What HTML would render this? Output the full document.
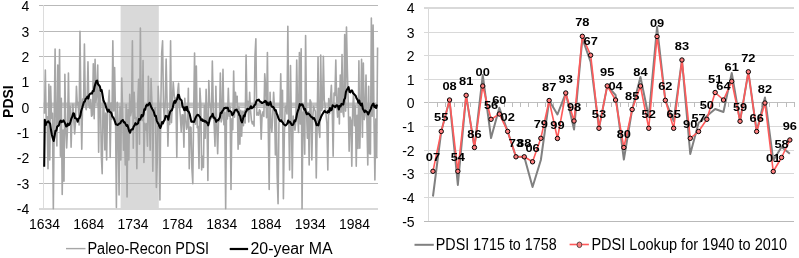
<!DOCTYPE html><html><head><meta charset="utf-8"><style>html,body{margin:0;padding:0;background:#fff;}svg{display:block;will-change:transform;}text{font-family:"Liberation Sans",sans-serif;}</style></head><body>
<svg width="799" height="258" viewBox="0 0 799 258">
<rect width="799" height="258" fill="#fff"/>
<rect x="120.6" y="5" width="38.2" height="204" fill="#d9d9d9"/>
<g shape-rendering="crispEdges">
<line x1="39" y1="5.5" x2="377.8" y2="5.5" stroke="#b9b9b9" stroke-width="1"/>
<line x1="39" y1="31.5" x2="377.8" y2="31.5" stroke="#b9b9b9" stroke-width="1"/>
<line x1="39" y1="56.5" x2="377.8" y2="56.5" stroke="#b9b9b9" stroke-width="1"/>
<line x1="39" y1="81.5" x2="377.8" y2="81.5" stroke="#b9b9b9" stroke-width="1"/>
<line x1="39" y1="107.5" x2="377.8" y2="107.5" stroke="#b9b9b9" stroke-width="1"/>
<line x1="39" y1="132.5" x2="377.8" y2="132.5" stroke="#b9b9b9" stroke-width="1"/>
<line x1="39" y1="157.5" x2="377.8" y2="157.5" stroke="#b9b9b9" stroke-width="1"/>
<line x1="39" y1="183.5" x2="377.8" y2="183.5" stroke="#b9b9b9" stroke-width="1"/>
<line x1="43.5" y1="5" x2="43.5" y2="208" stroke="#dcdcdc" stroke-width="1"/>
<rect x="39" y="208" width="338.8" height="2" fill="#d9d9d9"/>
</g>
<line x1="43.5" y1="104.6" x2="377.5" y2="104.6" stroke="#c0c0c0" stroke-width="4.2"/>
<polyline points="44.44,113.8 45.33,70.0 46.22,121.7 47.11,116.8 48.00,168.8 48.89,84.2 49.77,160.0 50.66,86.2 51.55,118.3 52.44,113.3 53.33,208.8 54.22,119.1 55.10,49.0 55.99,128.3 56.88,146.0 57.77,65.0 58.66,126.0 59.55,49.5 60.43,156.3 61.32,98.3 62.21,194.5 63.10,130.1 63.99,181.3 64.88,74.4 65.76,128.5 66.65,148.0 67.54,127.8 68.43,73.1 69.32,124.9 70.20,106.3 71.09,147.2 71.98,117.3 72.87,104.0 73.76,119.2 74.65,134.0 75.53,122.2 76.42,86.2 77.31,104.8 78.20,102.5 79.09,125.0 79.98,31.3 80.86,99.7 81.75,149.2 82.64,99.0 83.53,105.6 84.42,44.0 85.31,104.6 86.19,109.6 87.08,101.9 87.97,61.9 88.86,105.6 89.75,108.1 90.64,99.6 91.52,116.3 92.41,114.9 93.30,63.8 94.19,118.8 95.08,59.4 95.97,102.4 96.85,92.5 97.74,65.0 98.63,152.3 99.52,90.2 100.41,95.1 101.30,155.3 102.18,173.8 103.07,100.1 103.96,109.7 104.85,150.0 105.74,113.1 106.62,160.0 107.51,109.5 108.40,102.2 109.29,90.2 110.18,157.5 111.07,103.1 111.95,119.1 112.84,40.8 113.73,110.9 114.62,67.5 115.51,116.7 116.40,207.5 117.28,102.3 118.17,122.6 119.06,195.0 119.95,106.8 120.84,160.0 121.73,78.0 122.61,110.9 123.50,150.2 124.39,125.4 125.28,165.0 126.17,104.5 127.06,197.0 127.94,109.2 128.83,160.0 129.72,94.3 130.61,115.6 131.50,111.2 132.39,40.8 133.27,148.2 134.16,92.2 135.05,118.1 135.94,117.5 136.83,168.8 137.72,104.0 138.60,79.4 139.49,144.2 140.38,28.0 141.27,115.1 142.16,120.5 143.05,60.6 143.93,162.5 144.82,123.4 145.71,129.9 146.60,123.5 147.49,146.2 148.38,76.3 149.26,116.7 150.15,150.2 151.04,78.5 151.93,103.4 152.82,171.3 153.70,114.1 154.59,108.7 155.48,107.5 156.37,187.5 157.26,160.3 158.15,86.2 159.03,105.3 159.92,200.0 160.81,106.3 161.70,53.0 162.59,40.8 163.48,104.8 164.36,121.1 165.25,101.5 166.14,59.0 167.03,101.2 167.92,146.2 168.81,110.2 169.69,124.4 170.58,40.8 171.47,122.6 172.36,99.6 173.25,82.2 174.14,94.6 175.02,103.1 175.91,98.0 176.80,157.5 177.69,91.7 178.58,83.2 179.47,106.0 180.35,116.1 181.24,132.0 182.13,114.8 183.02,115.0 183.91,147.2 184.80,98.3 185.68,118.2 186.57,129.2 187.46,126.3 188.35,88.2 189.24,168.8 190.12,127.1 191.01,127.5 191.90,168.4 192.79,183.8 193.68,110.7 194.57,53.0 195.45,124.2 196.34,66.0 197.23,127.7 198.12,126.5 199.01,168.4 199.90,88.2 200.78,104.3 201.67,170.0 202.56,156.3 203.45,167.5 204.34,105.4 205.23,138.2 206.11,89.2 207.00,119.3 207.89,180.5 208.78,80.6 209.67,103.3 210.56,106.7 211.44,118.8 212.33,61.0 213.22,104.5 214.11,124.0 215.00,146.2 215.89,86.2 216.77,126.9 217.66,153.8 218.55,120.8 219.44,120.9 220.33,73.1 221.22,121.9 222.10,118.2 222.99,69.4 223.88,124.7 224.77,112.2 225.66,208.8 226.55,108.3 227.43,119.0 228.32,88.2 229.21,116.2 230.10,106.9 230.99,189.5 231.88,118.8 232.76,129.7 233.65,71.0 234.54,117.3 235.43,92.2 236.32,102.2 237.20,96.3 238.09,149.2 238.98,106.7 239.87,144.2 240.76,110.2 241.65,136.1 242.53,111.4 243.42,125.6 244.31,110.7 245.20,122.9 246.09,55.0 246.98,105.9 247.86,101.2 248.75,122.0 249.64,92.2 250.53,110.4 251.42,120.3 252.31,123.9 253.19,121.5 254.08,126.1 254.97,56.3 255.86,38.8 256.75,115.1 257.64,112.7 258.52,115.1 259.41,109.7 260.30,111.1 261.19,139.2 262.08,114.9 262.97,111.7 263.85,116.4 264.74,73.8 265.63,86.2 266.52,117.7 267.41,52.5 268.30,130.4 269.18,189.5 270.07,92.2 270.96,123.4 271.85,132.1 272.74,113.6 273.62,92.2 274.51,109.2 275.40,155.0 276.29,111.7 277.18,176.3 278.07,203.8 278.95,123.0 279.84,117.3 280.73,73.8 281.62,120.7 282.51,90.2 283.40,198.8 284.28,137.2 285.17,106.8 286.06,106.1 286.95,114.0 287.84,26.3 288.73,118.0 289.61,170.0 290.50,65.6 291.39,120.4 292.28,178.0 293.17,116.1 294.06,123.0 294.94,130.1 295.83,121.6 296.72,60.0 297.61,111.2 298.50,132.4 299.39,52.5 300.27,124.0 301.16,48.8 302.05,208.8 302.94,112.6 303.83,111.0 304.72,154.3 305.60,35.5 306.49,110.6 307.38,138.2 308.27,111.8 309.16,165.0 310.05,99.8 310.93,102.0 311.82,160.0 312.71,117.4 313.60,106.4 314.49,109.2 315.38,111.5 316.26,178.0 317.15,124.1 318.04,57.0 318.93,129.7 319.82,137.4 320.70,55.0 321.59,110.6 322.48,107.8 323.37,56.3 324.26,100.1 325.15,106.0 326.03,114.6 326.92,123.7 327.81,170.0 328.70,98.6 329.59,113.8 330.48,99.2 331.36,85.2 332.25,110.2 333.14,156.3 334.03,93.0 334.92,95.4 335.81,60.0 336.69,103.5 337.58,117.1 338.47,88.2 339.36,124.0 340.25,75.0 341.14,112.3 342.02,54.5 342.91,111.9 343.80,116.8 344.69,34.5 345.58,111.1 346.47,27.0 347.35,69.0 348.24,103.1 349.13,151.3 350.02,117.0 350.91,120.5 351.80,166.3 352.68,109.9 353.57,92.2 354.46,125.6 355.35,106.1 356.24,166.3 357.12,115.2 358.01,148.5 358.90,60.8 359.79,148.2 360.68,110.8 361.57,59.3 362.45,137.3 363.34,63.1 364.23,119.6 365.12,114.5 366.01,75.0 366.90,120.3 367.78,165.0 368.67,86.2 369.56,153.8 370.45,154.0 371.34,18.0 372.23,116.3 373.11,25.0 374.00,119.1 374.89,180.0 375.78,119.1 376.67,157.8 377.56,47.5" fill="none" stroke="#a6a6a6" stroke-width="1.6" stroke-linejoin="round"/>
<polyline points="44.20,166.70 44.80,119.67 45.69,125.07 46.58,122.36 47.46,122.05 48.35,121.28 49.24,122.72 50.13,123.91 51.02,130.03 51.91,134.94 52.79,138.20 53.68,141.07 54.57,135.97 55.46,130.76 56.35,130.65 57.24,126.55 58.12,125.97 59.01,125.07 59.90,121.69 60.79,120.51 61.68,122.09 62.57,121.69 63.45,120.25 64.34,121.87 65.23,123.67 66.12,126.54 67.01,126.16 67.90,123.66 68.78,125.11 69.67,124.22 70.56,121.52 71.45,118.33 72.34,116.51 73.23,113.22 74.11,113.67 75.00,118.23 75.89,118.20 76.78,118.93 77.67,121.67 78.56,118.40 79.44,118.24 80.33,115.71 81.22,110.79 82.11,108.09 83.00,105.07 83.89,102.13 84.77,101.62 85.66,98.72 86.55,98.44 87.44,96.46 88.33,98.53 89.21,94.94 90.10,93.81 90.99,93.33 91.88,93.66 92.77,90.93 93.66,91.14 94.54,86.69 95.43,83.94 96.32,81.04 97.21,80.67 98.10,84.25 98.99,85.25 99.87,86.35 100.76,90.88 101.65,90.00 102.54,95.00 103.43,100.24 104.32,102.26 105.20,104.05 106.09,107.23 106.98,109.53 107.87,111.58 108.76,109.62 109.65,111.99 110.53,112.00 111.42,113.31 112.31,116.60 113.20,117.25 114.09,119.11 114.98,121.61 115.86,124.32 116.75,124.67 117.64,125.03 118.53,124.20 119.42,123.43 120.31,123.23 121.19,121.32 122.08,120.55 122.97,119.99 123.86,122.41 124.75,122.31 125.64,124.28 126.52,125.83 127.41,125.06 128.30,128.02 129.19,131.26 130.08,132.65 130.96,129.99 131.85,129.27 132.74,129.38 133.63,126.60 134.52,125.41 135.41,123.17 136.29,124.55 137.18,124.06 138.07,123.20 138.96,119.09 139.85,119.88 140.74,118.31 141.62,114.99 142.51,116.45 143.40,114.72 144.29,109.31 145.18,109.75 146.07,105.82 146.95,104.51 147.84,105.57 148.73,104.13 149.62,102.76 150.51,105.15 151.40,107.52 152.28,109.09 153.17,110.47 154.06,112.68 154.95,115.95 155.84,115.76 156.73,120.56 157.61,122.74 158.50,123.71 159.39,126.35 160.28,128.00 161.17,125.81 162.06,121.97 162.94,123.51 163.83,120.91 164.72,119.78 165.61,115.89 166.50,116.39 167.39,116.38 168.27,119.74 169.16,115.18 170.05,112.02 170.94,110.70 171.83,110.31 172.71,107.74 173.60,103.43 174.49,100.95 175.38,102.76 176.27,100.31 177.16,99.18 178.04,94.75 178.93,94.98 179.82,98.74 180.71,99.60 181.60,100.51 182.49,106.19 183.37,107.61 184.26,110.30 185.15,107.29 186.04,109.95 186.93,106.68 187.82,111.31 188.70,111.53 189.59,113.84 190.48,117.68 191.37,121.73 192.26,121.52 193.15,121.86 194.03,122.02 194.92,119.47 195.81,117.25 196.70,115.72 197.59,114.82 198.48,114.93 199.36,116.30 200.25,117.46 201.14,120.23 202.03,119.33 202.92,121.01 203.81,120.40 204.69,121.66 205.58,121.02 206.47,122.61 207.36,122.45 208.25,125.35 209.14,121.99 210.02,117.95 210.91,116.53 211.80,116.30 212.69,113.70 213.58,117.70 214.46,117.57 215.35,119.19 216.24,121.87 217.13,120.26 218.02,120.23 218.91,119.17 219.79,117.58 220.68,112.86 221.57,112.98 222.46,110.93 223.35,109.77 224.24,108.06 225.12,108.28 226.01,107.61 226.90,107.99 227.79,107.77 228.68,111.20 229.57,110.71 230.45,111.45 231.34,112.00 232.23,115.23 233.12,114.31 234.01,112.52 234.90,110.30 235.78,109.76 236.67,109.57 237.56,111.63 238.45,112.21 239.34,115.10 240.23,116.23 241.11,120.65 242.00,122.41 242.89,119.18 243.78,115.45 244.67,116.22 245.56,112.31 246.44,111.07 247.33,108.73 248.22,109.37 249.11,108.90 250.00,108.11 250.89,106.24 251.77,108.24 252.66,107.19 253.55,107.16 254.44,105.14 255.33,104.63 256.21,101.45 257.10,100.11 257.99,100.33 258.88,99.63 259.77,101.44 260.66,101.68 261.54,102.95 262.43,102.97 263.32,102.35 264.21,102.12 265.10,100.78 265.99,101.43 266.87,104.82 267.76,102.53 268.65,105.07 269.54,104.29 270.43,101.89 271.32,105.79 272.20,106.89 273.09,106.78 273.98,108.07 274.87,110.43 275.76,110.12 276.65,113.52 277.53,115.27 278.42,118.29 279.31,119.91 280.20,121.14 281.09,120.22 281.98,121.74 282.86,122.67 283.75,124.44 284.64,124.90 285.53,125.51 286.42,124.69 287.31,123.64 288.19,120.43 289.08,122.43 289.97,121.85 290.86,123.30 291.75,124.90 292.64,125.06 293.52,123.93 294.41,120.59 295.30,121.32 296.19,118.19 297.08,113.49 297.96,110.51 298.85,108.27 299.74,104.05 300.63,105.40 301.52,104.28 302.41,104.49 303.29,106.47 304.18,109.59 305.07,108.91 305.96,112.23 306.85,114.27 307.74,113.38 308.62,113.76 309.51,114.55 310.40,115.80 311.29,117.00 312.18,117.32 313.07,118.71 313.95,117.92 314.84,119.81 315.73,121.95 316.62,125.14 317.51,124.36 318.40,125.35 319.28,121.42 320.17,119.47 321.06,116.84 321.95,114.95 322.84,113.55 323.73,112.13 324.61,110.73 325.50,111.98 326.39,112.22 327.28,112.70 328.17,110.90 329.06,112.02 329.94,107.92 330.83,110.40 331.72,109.76 332.61,105.28 333.50,105.85 334.39,106.25 335.27,107.17 336.16,105.55 337.05,105.38 337.94,106.10 338.83,109.57 339.71,105.89 340.60,106.41 341.49,103.85 342.38,104.41 343.27,104.45 344.16,99.51 345.04,98.26 345.93,91.92 346.82,89.90 347.71,88.74 348.60,87.08 349.49,91.86 350.37,92.35 351.26,90.59 352.15,90.51 353.04,93.15 353.93,93.93 354.82,94.85 355.70,95.97 356.59,98.31 357.48,99.56 358.37,102.76 359.26,100.46 360.15,104.19 361.03,105.37 361.92,103.48 362.81,108.71 363.70,110.19 364.59,112.08 365.48,110.60 366.36,111.56 367.25,112.10 368.14,114.52 369.03,112.49 369.92,110.75 370.81,108.87 371.69,106.16 372.58,104.36 373.47,103.62 374.36,107.07 375.25,105.92 376.14,108.02 377.02,104.52" fill="none" stroke="#000" stroke-width="2.05" stroke-linejoin="round"/>
<text x="29.2" y="10.5" font-size="14" text-anchor="end" fill="#000">4</text>
<text x="29.2" y="36.5" font-size="14" text-anchor="end" fill="#000">3</text>
<text x="29.2" y="61.5" font-size="14" text-anchor="end" fill="#000">2</text>
<text x="29.2" y="86.5" font-size="14" text-anchor="end" fill="#000">1</text>
<text x="29.2" y="112.5" font-size="14" text-anchor="end" fill="#000">0</text>
<text x="29.2" y="137.5" font-size="14" text-anchor="end" fill="#000">-1</text>
<text x="29.2" y="162.5" font-size="14" text-anchor="end" fill="#000">-2</text>
<text x="29.2" y="188.5" font-size="14" text-anchor="end" fill="#000">-3</text>
<text x="29.2" y="214.0" font-size="14" text-anchor="end" fill="#000">-4</text>
<text transform="translate(13,101.6) rotate(-90)" font-size="14" font-weight="bold" text-anchor="middle">PDSI</text>
<text x="44.5" y="229" font-size="14" text-anchor="middle" textLength="31" lengthAdjust="spacingAndGlyphs">1634</text>
<text x="88.8" y="229" font-size="14" text-anchor="middle" textLength="31" lengthAdjust="spacingAndGlyphs">1684</text>
<text x="133.1" y="229" font-size="14" text-anchor="middle" textLength="31" lengthAdjust="spacingAndGlyphs">1734</text>
<text x="177.4" y="229" font-size="14" text-anchor="middle" textLength="31" lengthAdjust="spacingAndGlyphs">1784</text>
<text x="221.7" y="229" font-size="14" text-anchor="middle" textLength="31" lengthAdjust="spacingAndGlyphs">1834</text>
<text x="266.0" y="229" font-size="14" text-anchor="middle" textLength="31" lengthAdjust="spacingAndGlyphs">1884</text>
<text x="310.3" y="229" font-size="14" text-anchor="middle" textLength="31" lengthAdjust="spacingAndGlyphs">1934</text>
<text x="354.6" y="229" font-size="14" text-anchor="middle" textLength="31" lengthAdjust="spacingAndGlyphs">1984</text>
<line x1="66" y1="248.6" x2="85.5" y2="248.6" stroke="#a6a6a6" stroke-width="1.4"/>
<text x="87.4" y="253.8" font-size="15.6" textLength="121.7" lengthAdjust="spacingAndGlyphs">Paleo-Recon PDSI</text>
<line x1="229.7" y1="249" x2="248.1" y2="249" stroke="#000" stroke-width="2.2"/>
<text x="250.5" y="253.8" font-size="15.6" textLength="82.2" lengthAdjust="spacingAndGlyphs">20-year MA</text>
<g shape-rendering="crispEdges">
<rect x="424" y="7" width="370" height="2" fill="#d9d9d9"/>
<line x1="424" y1="32.5" x2="794" y2="32.5" stroke="#d9d9d9" stroke-width="1"/>
<line x1="424" y1="55.5" x2="794" y2="55.5" stroke="#d9d9d9" stroke-width="1"/>
<line x1="424" y1="79.5" x2="794" y2="79.5" stroke="#d9d9d9" stroke-width="1"/>
<line x1="424" y1="102.5" x2="794" y2="102.5" stroke="#bfbfbf" stroke-width="1"/>
<line x1="424" y1="126.5" x2="794" y2="126.5" stroke="#d9d9d9" stroke-width="1"/>
<line x1="424" y1="150.5" x2="794" y2="150.5" stroke="#d9d9d9" stroke-width="1"/>
<line x1="424" y1="173.5" x2="794" y2="173.5" stroke="#d9d9d9" stroke-width="1"/>
<line x1="424" y1="197.5" x2="794" y2="197.5" stroke="#d9d9d9" stroke-width="1"/>
<line x1="424" y1="221.5" x2="794" y2="221.5" stroke="#b9b9b9" stroke-width="1"/>
<line x1="428.5" y1="7" x2="428.5" y2="221" stroke="#d9d9d9" stroke-width="1"/>
<line x1="437.5" y1="102" x2="437.5" y2="107" stroke="#bcbcbc" stroke-width="1"/>
<line x1="445.5" y1="102" x2="445.5" y2="107" stroke="#bcbcbc" stroke-width="1"/>
<line x1="454.5" y1="102" x2="454.5" y2="107" stroke="#bcbcbc" stroke-width="1"/>
<line x1="462.5" y1="102" x2="462.5" y2="107" stroke="#bcbcbc" stroke-width="1"/>
<line x1="470.5" y1="102" x2="470.5" y2="107" stroke="#bcbcbc" stroke-width="1"/>
<line x1="479.5" y1="102" x2="479.5" y2="107" stroke="#bcbcbc" stroke-width="1"/>
<line x1="487.5" y1="102" x2="487.5" y2="107" stroke="#bcbcbc" stroke-width="1"/>
<line x1="495.5" y1="102" x2="495.5" y2="107" stroke="#bcbcbc" stroke-width="1"/>
<line x1="504.5" y1="102" x2="504.5" y2="107" stroke="#bcbcbc" stroke-width="1"/>
<line x1="512.5" y1="102" x2="512.5" y2="107" stroke="#bcbcbc" stroke-width="1"/>
<line x1="520.5" y1="102" x2="520.5" y2="107" stroke="#bcbcbc" stroke-width="1"/>
<line x1="528.5" y1="102" x2="528.5" y2="107" stroke="#bcbcbc" stroke-width="1"/>
<line x1="537.5" y1="102" x2="537.5" y2="107" stroke="#bcbcbc" stroke-width="1"/>
<line x1="545.5" y1="102" x2="545.5" y2="107" stroke="#bcbcbc" stroke-width="1"/>
<line x1="553.5" y1="102" x2="553.5" y2="107" stroke="#bcbcbc" stroke-width="1"/>
<line x1="562.5" y1="102" x2="562.5" y2="107" stroke="#bcbcbc" stroke-width="1"/>
<line x1="570.5" y1="102" x2="570.5" y2="107" stroke="#bcbcbc" stroke-width="1"/>
<line x1="578.5" y1="102" x2="578.5" y2="107" stroke="#bcbcbc" stroke-width="1"/>
<line x1="586.5" y1="102" x2="586.5" y2="107" stroke="#bcbcbc" stroke-width="1"/>
<line x1="595.5" y1="102" x2="595.5" y2="107" stroke="#bcbcbc" stroke-width="1"/>
<line x1="603.5" y1="102" x2="603.5" y2="107" stroke="#bcbcbc" stroke-width="1"/>
<line x1="611.5" y1="102" x2="611.5" y2="107" stroke="#bcbcbc" stroke-width="1"/>
<line x1="620.5" y1="102" x2="620.5" y2="107" stroke="#bcbcbc" stroke-width="1"/>
<line x1="628.5" y1="102" x2="628.5" y2="107" stroke="#bcbcbc" stroke-width="1"/>
<line x1="636.5" y1="102" x2="636.5" y2="107" stroke="#bcbcbc" stroke-width="1"/>
<line x1="645.5" y1="102" x2="645.5" y2="107" stroke="#bcbcbc" stroke-width="1"/>
<line x1="653.5" y1="102" x2="653.5" y2="107" stroke="#bcbcbc" stroke-width="1"/>
<line x1="661.5" y1="102" x2="661.5" y2="107" stroke="#bcbcbc" stroke-width="1"/>
<line x1="670.5" y1="102" x2="670.5" y2="107" stroke="#bcbcbc" stroke-width="1"/>
<line x1="678.5" y1="102" x2="678.5" y2="107" stroke="#bcbcbc" stroke-width="1"/>
<line x1="686.5" y1="102" x2="686.5" y2="107" stroke="#bcbcbc" stroke-width="1"/>
<line x1="694.5" y1="102" x2="694.5" y2="107" stroke="#bcbcbc" stroke-width="1"/>
<line x1="703.5" y1="102" x2="703.5" y2="107" stroke="#bcbcbc" stroke-width="1"/>
<line x1="711.5" y1="102" x2="711.5" y2="107" stroke="#bcbcbc" stroke-width="1"/>
<line x1="719.5" y1="102" x2="719.5" y2="107" stroke="#bcbcbc" stroke-width="1"/>
<line x1="728.5" y1="102" x2="728.5" y2="107" stroke="#bcbcbc" stroke-width="1"/>
<line x1="736.5" y1="102" x2="736.5" y2="107" stroke="#bcbcbc" stroke-width="1"/>
<line x1="744.5" y1="102" x2="744.5" y2="107" stroke="#bcbcbc" stroke-width="1"/>
<line x1="752.5" y1="102" x2="752.5" y2="107" stroke="#bcbcbc" stroke-width="1"/>
<line x1="761.5" y1="102" x2="761.5" y2="107" stroke="#bcbcbc" stroke-width="1"/>
<line x1="769.5" y1="102" x2="769.5" y2="107" stroke="#bcbcbc" stroke-width="1"/>
<line x1="777.5" y1="102" x2="777.5" y2="107" stroke="#bcbcbc" stroke-width="1"/>
<line x1="786.5" y1="102" x2="786.5" y2="107" stroke="#bcbcbc" stroke-width="1"/>
<line x1="794.5" y1="102" x2="794.5" y2="107" stroke="#bcbcbc" stroke-width="1"/>
</g>
<text x="414.6" y="13.0" font-size="14" text-anchor="end">4</text>
<text x="414.6" y="37.5" font-size="14" text-anchor="end">3</text>
<text x="414.6" y="60.5" font-size="14" text-anchor="end">2</text>
<text x="414.6" y="84.5" font-size="14" text-anchor="end">1</text>
<text x="414.6" y="107.5" font-size="14" text-anchor="end">0</text>
<text x="414.6" y="131.5" font-size="14" text-anchor="end">-1</text>
<text x="414.6" y="155.5" font-size="14" text-anchor="end">-2</text>
<text x="414.6" y="178.5" font-size="14" text-anchor="end">-3</text>
<text x="414.6" y="202.5" font-size="14" text-anchor="end">-4</text>
<text x="414.6" y="226.5" font-size="14" text-anchor="end">-5</text>
<polyline points="432.95,196.5 441.25,131.4 449.55,100 457.85,185 466.15,95.3 474.45,147.5 482.75,75 491.05,138 499.35,107.8 507.65,131.4 515.95,156.8 524.25,156.8 532.55,187 540.85,160 549.15,100.5 557.45,114.5 565.75,93 574.05,129.6 582.35,38.5 590.65,62 598.95,128.3 607.25,85.9 615.55,95 623.85,159.5 632.15,109.5 640.45,77 648.75,117 657.05,27 665.35,100.3 673.65,121 681.95,60 690.25,154 698.55,123 706.85,116 715.15,109 723.45,112 731.75,73 740.05,121.3 748.35,71.8 756.65,131.5 764.95,97.5 773.25,160.5 781.55,147 789.85,153.8" fill="none" stroke="#808080" stroke-width="2" stroke-linejoin="round"/>
<polyline points="432.95,171.3 441.25,131.4 449.55,100 457.85,171.3 466.15,95.3 474.45,147.5 482.75,86 491.05,119.3 499.35,114 507.65,131.4 515.95,156.8 524.25,156.8 532.55,161.8 540.85,138.3 549.15,100.5 557.45,138.5 565.75,93 574.05,121 582.35,36.3 590.65,55.2 598.95,128.3 607.25,85.9 615.55,100 623.85,147.5 632.15,109.5 640.45,86 648.75,128.3 657.05,36.5 665.35,100.3 673.65,128.3 681.95,60 690.25,138.3 698.55,131.5 706.85,119.3 715.15,92.5 723.45,100 731.75,81.3 740.05,121.3 748.35,71.8 756.65,131.5 764.95,103 773.25,171.5 781.55,157.5 789.85,140" fill="none" stroke="#ff5a5a" stroke-width="1.6" stroke-linejoin="round"/>
<circle cx="432.95" cy="171.3" r="2.2" fill="#ff7f7f" stroke="#000" stroke-width="1"/>
<circle cx="441.25" cy="131.4" r="2.2" fill="#ff7f7f" stroke="#000" stroke-width="1"/>
<circle cx="449.55" cy="100" r="2.2" fill="#ff7f7f" stroke="#000" stroke-width="1"/>
<circle cx="457.85" cy="171.3" r="2.2" fill="#ff7f7f" stroke="#000" stroke-width="1"/>
<circle cx="466.15" cy="95.3" r="2.2" fill="#ff7f7f" stroke="#000" stroke-width="1"/>
<circle cx="474.45" cy="147.5" r="2.2" fill="#ff7f7f" stroke="#000" stroke-width="1"/>
<circle cx="482.75" cy="86" r="2.2" fill="#ff7f7f" stroke="#000" stroke-width="1"/>
<circle cx="491.05" cy="119.3" r="2.2" fill="#ff7f7f" stroke="#000" stroke-width="1"/>
<circle cx="499.35" cy="114" r="2.2" fill="#ff7f7f" stroke="#000" stroke-width="1"/>
<circle cx="507.65" cy="131.4" r="2.2" fill="#ff7f7f" stroke="#000" stroke-width="1"/>
<circle cx="515.95" cy="156.8" r="2.2" fill="#ff7f7f" stroke="#000" stroke-width="1"/>
<circle cx="524.25" cy="156.8" r="2.2" fill="#ff7f7f" stroke="#000" stroke-width="1"/>
<circle cx="532.55" cy="161.8" r="2.2" fill="#ff7f7f" stroke="#000" stroke-width="1"/>
<circle cx="540.85" cy="138.3" r="2.2" fill="#ff7f7f" stroke="#000" stroke-width="1"/>
<circle cx="549.15" cy="100.5" r="2.2" fill="#ff7f7f" stroke="#000" stroke-width="1"/>
<circle cx="557.45" cy="138.5" r="2.2" fill="#ff7f7f" stroke="#000" stroke-width="1"/>
<circle cx="565.75" cy="93" r="2.2" fill="#ff7f7f" stroke="#000" stroke-width="1"/>
<circle cx="574.05" cy="121" r="2.2" fill="#ff7f7f" stroke="#000" stroke-width="1"/>
<circle cx="582.35" cy="36.3" r="2.2" fill="#ff7f7f" stroke="#000" stroke-width="1"/>
<circle cx="590.65" cy="55.2" r="2.2" fill="#ff7f7f" stroke="#000" stroke-width="1"/>
<circle cx="598.95" cy="128.3" r="2.2" fill="#ff7f7f" stroke="#000" stroke-width="1"/>
<circle cx="607.25" cy="85.9" r="2.2" fill="#ff7f7f" stroke="#000" stroke-width="1"/>
<circle cx="615.55" cy="100" r="2.2" fill="#ff7f7f" stroke="#000" stroke-width="1"/>
<circle cx="623.85" cy="147.5" r="2.2" fill="#ff7f7f" stroke="#000" stroke-width="1"/>
<circle cx="632.15" cy="109.5" r="2.2" fill="#ff7f7f" stroke="#000" stroke-width="1"/>
<circle cx="640.45" cy="86" r="2.2" fill="#ff7f7f" stroke="#000" stroke-width="1"/>
<circle cx="648.75" cy="128.3" r="2.2" fill="#ff7f7f" stroke="#000" stroke-width="1"/>
<circle cx="657.05" cy="36.5" r="2.2" fill="#ff7f7f" stroke="#000" stroke-width="1"/>
<circle cx="665.35" cy="100.3" r="2.2" fill="#ff7f7f" stroke="#000" stroke-width="1"/>
<circle cx="673.65" cy="128.3" r="2.2" fill="#ff7f7f" stroke="#000" stroke-width="1"/>
<circle cx="681.95" cy="60" r="2.2" fill="#ff7f7f" stroke="#000" stroke-width="1"/>
<circle cx="690.25" cy="138.3" r="2.2" fill="#ff7f7f" stroke="#000" stroke-width="1"/>
<circle cx="698.55" cy="131.5" r="2.2" fill="#ff7f7f" stroke="#000" stroke-width="1"/>
<circle cx="706.85" cy="119.3" r="2.2" fill="#ff7f7f" stroke="#000" stroke-width="1"/>
<circle cx="715.15" cy="92.5" r="2.2" fill="#ff7f7f" stroke="#000" stroke-width="1"/>
<circle cx="723.45" cy="100" r="2.2" fill="#ff7f7f" stroke="#000" stroke-width="1"/>
<circle cx="731.75" cy="81.3" r="2.2" fill="#ff7f7f" stroke="#000" stroke-width="1"/>
<circle cx="740.05" cy="121.3" r="2.2" fill="#ff7f7f" stroke="#000" stroke-width="1"/>
<circle cx="748.35" cy="71.8" r="2.2" fill="#ff7f7f" stroke="#000" stroke-width="1"/>
<circle cx="756.65" cy="131.5" r="2.2" fill="#ff7f7f" stroke="#000" stroke-width="1"/>
<circle cx="764.95" cy="103" r="2.2" fill="#ff7f7f" stroke="#000" stroke-width="1"/>
<circle cx="773.25" cy="171.5" r="2.2" fill="#ff7f7f" stroke="#000" stroke-width="1"/>
<circle cx="781.55" cy="157.5" r="2.2" fill="#ff7f7f" stroke="#000" stroke-width="1"/>
<circle cx="789.85" cy="140" r="2.2" fill="#ff7f7f" stroke="#000" stroke-width="1"/>
<text x="432.95" y="161.3" font-size="11.3" font-weight="bold" text-anchor="middle" textLength="14.3" lengthAdjust="spacingAndGlyphs">07</text>
<text x="441.25" y="121.4" font-size="11.3" font-weight="bold" text-anchor="middle" textLength="14.3" lengthAdjust="spacingAndGlyphs">55</text>
<text x="449.55" y="90.0" font-size="11.3" font-weight="bold" text-anchor="middle" textLength="14.3" lengthAdjust="spacingAndGlyphs">08</text>
<text x="457.85" y="161.3" font-size="11.3" font-weight="bold" text-anchor="middle" textLength="14.3" lengthAdjust="spacingAndGlyphs">54</text>
<text x="466.15" y="85.3" font-size="11.3" font-weight="bold" text-anchor="middle" textLength="14.3" lengthAdjust="spacingAndGlyphs">81</text>
<text x="474.45" y="137.5" font-size="11.3" font-weight="bold" text-anchor="middle" textLength="14.3" lengthAdjust="spacingAndGlyphs">86</text>
<text x="482.75" y="76.0" font-size="11.3" font-weight="bold" text-anchor="middle" textLength="14.3" lengthAdjust="spacingAndGlyphs">00</text>
<text x="491.05" y="109.3" font-size="11.3" font-weight="bold" text-anchor="middle" textLength="14.3" lengthAdjust="spacingAndGlyphs">56</text>
<text x="499.35" y="104.0" font-size="11.3" font-weight="bold" text-anchor="middle" textLength="14.3" lengthAdjust="spacingAndGlyphs">60</text>
<text x="507.65" y="121.4" font-size="11.3" font-weight="bold" text-anchor="middle" textLength="14.3" lengthAdjust="spacingAndGlyphs">02</text>
<text x="515.95" y="146.8" font-size="11.3" font-weight="bold" text-anchor="middle" textLength="14.3" lengthAdjust="spacingAndGlyphs">73</text>
<text x="524.25" y="146.8" font-size="11.3" font-weight="bold" text-anchor="middle" textLength="14.3" lengthAdjust="spacingAndGlyphs">88</text>
<text x="532.55" y="151.8" font-size="11.3" font-weight="bold" text-anchor="middle" textLength="14.3" lengthAdjust="spacingAndGlyphs">06</text>
<text x="540.85" y="128.3" font-size="11.3" font-weight="bold" text-anchor="middle" textLength="14.3" lengthAdjust="spacingAndGlyphs">79</text>
<text x="549.15" y="90.5" font-size="11.3" font-weight="bold" text-anchor="middle" textLength="14.3" lengthAdjust="spacingAndGlyphs">87</text>
<text x="557.45" y="128.5" font-size="11.3" font-weight="bold" text-anchor="middle" textLength="14.3" lengthAdjust="spacingAndGlyphs">99</text>
<text x="565.75" y="83.0" font-size="11.3" font-weight="bold" text-anchor="middle" textLength="14.3" lengthAdjust="spacingAndGlyphs">93</text>
<text x="574.05" y="111.0" font-size="11.3" font-weight="bold" text-anchor="middle" textLength="14.3" lengthAdjust="spacingAndGlyphs">98</text>
<text x="582.35" y="26.3" font-size="11.3" font-weight="bold" text-anchor="middle" textLength="14.3" lengthAdjust="spacingAndGlyphs">78</text>
<text x="590.65" y="45.2" font-size="11.3" font-weight="bold" text-anchor="middle" textLength="14.3" lengthAdjust="spacingAndGlyphs">67</text>
<text x="598.95" y="118.3" font-size="11.3" font-weight="bold" text-anchor="middle" textLength="14.3" lengthAdjust="spacingAndGlyphs">53</text>
<text x="607.25" y="75.9" font-size="11.3" font-weight="bold" text-anchor="middle" textLength="14.3" lengthAdjust="spacingAndGlyphs">95</text>
<text x="615.55" y="90.0" font-size="11.3" font-weight="bold" text-anchor="middle" textLength="14.3" lengthAdjust="spacingAndGlyphs">04</text>
<text x="623.85" y="137.5" font-size="11.3" font-weight="bold" text-anchor="middle" textLength="14.3" lengthAdjust="spacingAndGlyphs">80</text>
<text x="632.15" y="99.5" font-size="11.3" font-weight="bold" text-anchor="middle" textLength="14.3" lengthAdjust="spacingAndGlyphs">85</text>
<text x="640.45" y="76.0" font-size="11.3" font-weight="bold" text-anchor="middle" textLength="14.3" lengthAdjust="spacingAndGlyphs">84</text>
<text x="648.75" y="118.3" font-size="11.3" font-weight="bold" text-anchor="middle" textLength="14.3" lengthAdjust="spacingAndGlyphs">52</text>
<text x="657.05" y="26.5" font-size="11.3" font-weight="bold" text-anchor="middle" textLength="14.3" lengthAdjust="spacingAndGlyphs">09</text>
<text x="665.35" y="90.3" font-size="11.3" font-weight="bold" text-anchor="middle" textLength="14.3" lengthAdjust="spacingAndGlyphs">62</text>
<text x="673.65" y="118.3" font-size="11.3" font-weight="bold" text-anchor="middle" textLength="14.3" lengthAdjust="spacingAndGlyphs">65</text>
<text x="681.95" y="50.0" font-size="11.3" font-weight="bold" text-anchor="middle" textLength="14.3" lengthAdjust="spacingAndGlyphs">83</text>
<text x="690.25" y="128.3" font-size="11.3" font-weight="bold" text-anchor="middle" textLength="14.3" lengthAdjust="spacingAndGlyphs">90</text>
<text x="698.55" y="121.5" font-size="11.3" font-weight="bold" text-anchor="middle" textLength="14.3" lengthAdjust="spacingAndGlyphs">57</text>
<text x="706.85" y="109.3" font-size="11.3" font-weight="bold" text-anchor="middle" textLength="14.3" lengthAdjust="spacingAndGlyphs">50</text>
<text x="715.15" y="82.5" font-size="11.3" font-weight="bold" text-anchor="middle" textLength="14.3" lengthAdjust="spacingAndGlyphs">51</text>
<text x="723.45" y="90.0" font-size="11.3" font-weight="bold" text-anchor="middle" textLength="14.3" lengthAdjust="spacingAndGlyphs">64</text>
<text x="731.75" y="71.3" font-size="11.3" font-weight="bold" text-anchor="middle" textLength="14.3" lengthAdjust="spacingAndGlyphs">61</text>
<text x="740.05" y="111.3" font-size="11.3" font-weight="bold" text-anchor="middle" textLength="14.3" lengthAdjust="spacingAndGlyphs">59</text>
<text x="748.35" y="61.8" font-size="11.3" font-weight="bold" text-anchor="middle" textLength="14.3" lengthAdjust="spacingAndGlyphs">72</text>
<text x="756.65" y="121.5" font-size="11.3" font-weight="bold" text-anchor="middle" textLength="14.3" lengthAdjust="spacingAndGlyphs">66</text>
<text x="764.95" y="93.0" font-size="11.3" font-weight="bold" text-anchor="middle" textLength="14.3" lengthAdjust="spacingAndGlyphs">82</text>
<text x="773.25" y="161.5" font-size="11.3" font-weight="bold" text-anchor="middle" textLength="14.3" lengthAdjust="spacingAndGlyphs">01</text>
<text x="781.55" y="147.5" font-size="11.3" font-weight="bold" text-anchor="middle" textLength="14.3" lengthAdjust="spacingAndGlyphs">58</text>
<text x="789.85" y="130.0" font-size="11.3" font-weight="bold" text-anchor="middle" textLength="14.3" lengthAdjust="spacingAndGlyphs">96</text>
<line x1="414.5" y1="244.8" x2="433.8" y2="244.8" stroke="#808080" stroke-width="2"/>
<text x="435.8" y="249.8" font-size="15.6" textLength="120.8" lengthAdjust="spacingAndGlyphs">PDSI 1715 to 1758</text>
<line x1="569.6" y1="244.5" x2="588.9" y2="244.5" stroke="#ff5a5a" stroke-width="1.6"/>
<ellipse cx="579.4" cy="244.8" rx="2.4" ry="2.8" fill="#ff8080" stroke="#333" stroke-width="0.8"/>
<text x="591.4" y="249.8" font-size="15.6" textLength="195.6" lengthAdjust="spacingAndGlyphs">PDSI Lookup for 1940 to 2010</text>
</svg></body></html>
